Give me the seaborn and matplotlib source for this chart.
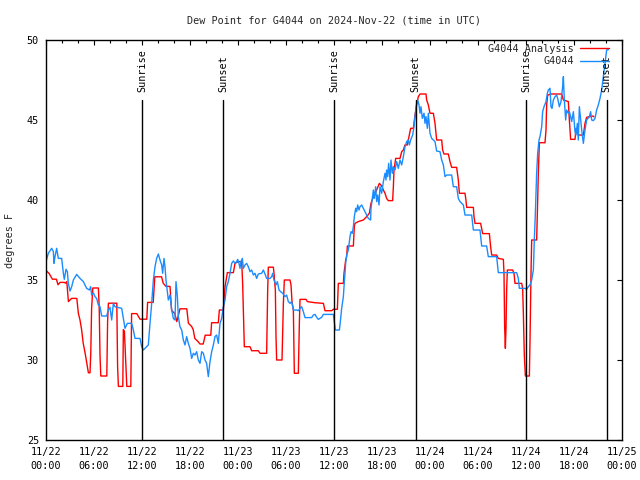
import pandas as pd
import matplotlib
matplotlib.use("Agg")
import matplotlib.pyplot as plt
import matplotlib.dates as mdates
import seaborn as sns

# Analysis series (hours after 2024-11-22 00:00 UTC, deg F)
red_hours = [0.0, 0.4, 0.8, 1.3, 1.5, 1.75, 2.3, 2.45, 2.6, 2.8, 3.2, 3.85, 4.05, 4.25, 4.45,
             4.65, 4.9, 5.1, 5.3, 5.5, 5.6, 5.7, 5.85, 6.55, 6.65, 6.75, 6.85, 7.6, 7.7, 7.8,
             8.85, 8.95, 9.05, 9.6, 9.67, 9.8, 10.0, 10.1, 10.6, 10.7, 11.35, 11.75, 12.6, 12.7,
             13.4, 13.6, 14.45, 14.65, 15.0, 15.5, 15.7, 16.1, 16.35, 16.75, 17.6, 17.8, 18.2,
             18.4, 18.6, 19.0, 19.25, 19.65, 19.9, 20.6, 20.7, 21.54, 21.67, 22.17, 22.375,
             22.67, 23.42, 23.625, 24.04, 24.46, 24.58, 24.79, 25.5, 25.71, 26.54, 26.75, 27.58,
             27.71, 27.79, 28.42, 28.5, 28.67, 28.75, 28.83, 29.5, 29.67, 29.79, 30.5, 30.625,
             30.75, 30.92, 31.04, 31.54, 31.67, 31.75, 32.5, 32.67, 33.625, 34.67, 34.875,
             35.71, 35.92, 36.42, 36.54, 37.17, 37.25, 37.46, 37.58, 37.67, 38.42, 38.54,
             38.625, 39.04, 39.67, 40.08, 40.42, 40.625, 40.92, 41.33, 41.67, 41.96, 42.17,
             42.375, 42.58, 42.79, 43.33, 43.42, 43.5, 43.71, 44.25, 44.46, 44.67, 44.875,
             45.17, 45.42, 45.58, 45.92, 46.125, 46.33, 46.54, 46.75, 47.5, 47.58, 47.79, 48.0,
             48.42, 48.625, 48.75, 48.83, 49.46, 49.58, 49.75, 50.29, 50.5, 50.71, 51.33,
             51.54, 51.67, 52.375, 52.5, 52.58, 53.42, 53.5, 53.625, 54.33, 54.58, 55.42,
             55.58, 55.71, 56.33, 56.54, 57.17, 57.25, 57.33, 57.42, 57.5, 57.58, 57.67, 58.33,
             58.5, 58.625, 59.46, 59.58, 59.67, 59.79, 59.92, 60.42, 60.5, 60.625, 60.71,
             61.33, 61.42, 61.54, 61.67, 62.375, 62.5, 62.58, 62.71, 63.2, 64.46, 64.67, 65.29,
             65.42, 65.58, 66.125, 66.25, 66.42, 66.54, 67.17, 67.375, 67.58, 68.33, 68.5]
red_vals = [35.6, 35.4, 35.05, 35.05, 34.7, 34.85, 34.85, 34.8, 34.9, 33.65, 33.85, 33.85, 32.9,
            32.5, 31.9, 31.05, 30.4, 29.8, 29.2, 29.2, 30.5, 33.2, 34.5, 34.5, 33.3, 30.3, 29.0,
            29.0, 32.4, 33.55, 33.55, 29.6, 28.35, 28.35, 31.9, 31.8, 29.6, 28.35, 28.35, 32.9,
            32.9, 32.55, 32.55, 33.6, 33.6, 35.2, 35.2, 34.8, 34.6, 34.6, 33.1, 32.9, 32.4,
            33.2, 33.2, 32.3, 32.1, 31.9, 31.35, 31.15, 31.0, 31.0, 31.55, 31.55, 32.33, 32.33,
            33.125, 33.125, 34.58, 35.46, 35.46, 36.04, 36.15, 36.15, 34.8, 30.83, 30.83, 30.58,
            30.58, 30.42, 30.42, 34.375, 35.8, 35.8, 35.42, 34.375, 31.46, 30.0, 30.0, 33.54,
            35.0, 35.0, 34.69, 33.65, 33.125, 29.17, 29.17, 32.29, 33.79, 33.79, 33.65, 33.58,
            33.54, 33.08, 33.08, 33.17, 33.17, 34.79, 34.79, 35.42, 36.25, 36.46, 37.125,
            37.125, 38.33, 38.54, 38.65, 38.75, 38.96, 39.17, 39.79, 40.2, 40.625, 41.04,
            40.875, 40.625, 40.42, 40.1, 39.96, 39.96, 40.83, 41.875, 42.6, 42.6, 43.02,
            43.125, 43.44, 43.44, 44.06, 44.48, 44.48, 45.3, 45.94, 46.46, 46.625, 46.625,
            46.25, 45.94, 45.42, 45.42, 44.79, 44.17, 43.75, 43.75, 43.125, 42.875, 42.875,
            42.4, 42.04, 42.04, 41.25, 40.42, 40.42, 39.96, 39.54, 39.54, 38.96, 38.54, 38.54,
            37.9, 37.9, 37.08, 36.56, 36.56, 36.35, 36.29, 35.42, 32.08, 30.73, 31.98, 34.375,
            35.625, 35.625, 35.42, 34.79, 34.79, 34.48, 32.92, 30.31, 29.0, 29.0, 31.15, 35.42,
            37.5, 37.5, 39.17, 41.67, 43.58, 43.58, 44.375, 45.94, 46.56, 46.625, 46.625, 46.25,
            46.15, 45.0, 43.79, 43.79, 44.48, 44.33, 44.06, 44.06, 44.79, 45.17, 45.25, 45.2]

# Station observations
obs_hours = [0.0, 0.29, 0.5, 0.71, 0.92, 1.0, 1.125, 1.33, 1.54, 1.96, 2.17, 2.29, 2.5, 2.67,
             2.79, 3.0, 3.21, 3.42, 3.83, 4.25, 4.67, 5.08, 5.42, 5.58, 5.71, 5.92, 6.125, 6.33,
             6.54, 6.75, 6.96, 7.58, 7.79, 8.0, 8.21, 8.42, 8.625, 9.46, 9.67, 9.875, 10.17,
             10.71, 10.92, 11.125, 11.75, 11.96, 12.17, 12.58, 12.79, 13.0, 13.21, 13.42,
             13.625, 13.83, 14.04, 14.25, 14.46, 14.58, 14.75, 14.875, 15.0, 15.17, 15.29,
             15.5, 15.71, 15.92, 16.125, 16.25, 16.42, 16.54, 16.75, 16.96, 17.17, 17.375,
             17.58, 17.79, 18.0, 18.21, 18.42, 18.625, 18.83, 19.04, 19.25, 19.46, 19.67,
             19.875, 20.08, 20.29, 20.5, 20.71, 20.92, 21.125, 21.33, 21.54, 21.75, 21.96,
             22.17, 22.375, 22.58, 22.79, 23.0, 23.21, 23.42, 23.625, 23.83, 23.96, 24.125,
             24.25, 24.375, 24.54, 24.67, 24.875, 25.08, 25.29, 25.5, 25.71, 25.92, 26.125,
             26.33, 26.54, 26.96, 27.17, 27.375, 27.58, 28.0, 28.21, 28.33, 28.5, 28.75,
             28.92, 29.125, 29.33, 29.58, 29.875, 30.08, 30.29, 30.5, 30.71, 30.92, 31.33,
             31.54, 31.75, 31.96, 32.17, 32.375, 33.21, 33.42, 33.625, 33.83, 34.04, 34.46,
             34.67, 35.92, 36.04, 36.17, 36.67, 36.75, 36.96, 37.17, 37.25, 37.46, 37.58,
             37.79, 38.0, 38.125, 38.29, 38.42, 38.54, 38.71, 38.83, 38.96, 39.125, 39.25,
             39.46, 39.67, 39.875, 40.08, 40.29, 40.58, 40.625, 40.71, 40.92, 41.04, 41.21,
             41.33, 41.46, 41.625, 41.75, 41.96, 42.17, 42.375, 42.5, 42.58, 42.71, 42.83,
             43.0, 43.125, 43.29, 43.42, 43.625, 43.83, 44.04, 44.25, 44.46, 44.67, 44.875,
             45.08, 45.29, 45.42, 45.58, 45.83, 46.0, 46.125, 46.33, 46.46, 46.625, 46.75,
             46.875, 47.04, 47.25, 47.375, 47.5, 47.67, 47.79, 48.0, 48.21, 48.42, 48.625,
             48.83, 49.25, 49.46, 49.67, 49.875, 50.08, 50.71, 50.92, 51.33, 51.54, 51.75,
             52.17, 52.375, 53.21, 53.42, 54.25, 54.46, 55.08, 55.29, 56.33, 56.42, 56.54,
             58.83, 59.04, 59.17, 59.875, 60.08, 60.29, 60.5, 60.71, 60.92, 61.04, 61.17,
             61.33, 61.46, 61.625, 61.75, 61.96, 62.08, 62.25, 62.5, 62.67, 62.79, 63.0,
             63.125, 63.25, 63.42, 63.625, 63.83, 63.96, 64.17, 64.375, 64.58, 64.67, 64.79,
             64.96, 65.08, 65.29, 65.42, 65.58, 65.71, 65.92, 66.125, 66.25, 66.42, 66.54,
             66.67, 66.83, 66.96, 67.17, 67.375, 67.58, 67.92, 68.08, 68.21, 68.42, 68.625,
             68.83, 69.04, 69.25, 69.46, 69.67, 69.875, 70.08, 70.3]
obs_vals = [36.15, 36.67, 36.83, 36.98, 36.77, 36.04, 36.46, 36.98, 36.35, 36.35, 35.42, 35.04,
            35.67, 35.52, 34.79, 34.31, 34.58, 35.0, 35.35, 35.1, 34.9, 34.48, 34.375, 34.58,
            34.06, 34.2, 33.96, 33.85, 33.44, 33.33, 32.75, 32.75, 33.125, 33.29, 32.5, 33.54,
            33.33, 33.23, 32.6, 31.98, 32.29, 32.29, 31.875, 31.35, 31.35, 30.83, 30.625,
            30.83, 30.94, 32.29, 33.54, 35.0, 35.83, 36.35, 36.625, 36.25, 35.94, 35.42,
            36.35, 35.83, 35.0, 34.27, 33.75, 34.06, 33.125, 32.6, 32.5, 34.9, 33.96, 32.71,
            32.08, 31.875, 31.25, 30.94, 31.46, 31.04, 30.73, 30.1, 30.42, 30.31, 30.52, 30.0,
            29.79, 30.52, 30.42, 30.0, 29.79, 28.96, 29.9, 30.52, 30.94, 31.46, 31.56, 31.04,
            32.29, 32.6, 33.33, 33.75, 34.58, 34.9, 35.42, 36.04, 36.19, 36.04, 36.15, 36.29,
            36.04, 35.73, 36.15, 36.35, 35.73, 35.94, 36.04, 35.83, 35.52, 35.625, 35.31,
            35.42, 35.1, 35.375, 35.42, 35.625, 35.375, 35.1, 35.1, 35.21, 35.42, 35.0, 34.69,
            34.9, 34.375, 34.27, 34.17, 33.96, 34.06, 33.65, 33.54, 33.65, 33.125, 33.125,
            33.08, 33.23, 33.33, 33.02, 32.65, 32.65, 32.81, 32.85, 32.67, 32.54, 32.67,
            32.85, 32.85, 32.4, 31.875, 31.875, 32.19, 33.23, 33.96, 34.58, 36.04, 36.56,
            36.875, 37.71, 38.02, 37.92, 38.33, 38.96, 39.48, 39.27, 39.69, 39.375, 39.58,
            39.69, 39.48, 39.27, 39.06, 38.85, 38.75, 39.48, 39.79, 40.625, 40.1, 40.83, 39.9,
            40.31, 39.69, 40.83, 40.42, 41.15, 41.67, 41.25, 41.875, 41.46, 42.29, 41.25,
            42.5, 41.67, 42.08, 41.875, 42.4, 41.98, 42.5, 42.19, 42.71, 43.33, 43.65, 43.75,
            43.44, 43.75, 44.06, 44.58, 45.21, 46.04, 46.25, 45.94, 45.42, 45.83, 45.1, 45.42,
            44.79, 45.21, 44.48, 45.42, 44.17, 43.85, 43.75, 43.65, 43.06, 43.02, 42.5, 42.19,
            41.46, 41.56, 41.56, 40.83, 40.83, 40.1, 39.9, 39.69, 39.06, 39.06, 38.125,
            38.125, 37.125, 37.125, 36.46, 36.46, 36.04, 35.46, 35.46, 35.1, 34.48, 34.48,
            34.42, 34.58, 34.69, 35.0, 35.625, 37.5, 39.17, 41.67, 42.92, 43.75, 43.96, 44.58,
            45.52, 45.83, 46.15, 46.67, 46.875, 46.98, 45.83, 45.73, 46.25, 46.46, 46.56,
            46.35, 45.83, 46.15, 47.08, 47.71, 46.25, 45.0, 45.625, 45.42, 45.52, 45.2, 44.9,
            45.52, 44.27, 44.06, 44.79, 43.75, 45.83, 45.0, 44.375, 43.54, 44.375, 45.0,
            45.21, 45.52, 45.0, 44.96, 45.1, 45.625, 45.94, 46.35, 46.875, 47.71, 48.54,
            49.375, 49.4]

# Sunrise / sunset markers
event_hours = [12.05, 22.17, 36.04, 46.2, 60.0, 70.1]
event_labels = ['Sunrise', 'Sunset', 'Sunrise', 'Sunset', 'Sunrise', 'Sunset']

start = pd.Timestamp('2024-11-22 00:00')
df_red = pd.DataFrame({'time': start + pd.to_timedelta(red_hours, unit='h'), 'dewpt': red_vals})
df_obs = pd.DataFrame({'time': start + pd.to_timedelta(obs_hours, unit='h'), 'dewpt': obs_vals})

sns.set_theme(style='white')
plt.rcParams['font.family'] = ['DejaVu Sans Mono']
plt.rcParams['font.size'] = 7.3

fig = plt.figure(figsize=(6.4, 4.8), dpi=100)
ax = fig.add_axes([46 / 640, 40 / 480, 576 / 640, 400 / 480])

sns.lineplot(data=df_red, x='time', y='dewpt', ax=ax, color='#ff0000', linewidth=1.0,
             estimator=None, sort=False, label='G4044 Analysis')
sns.lineplot(data=df_obs, x='time', y='dewpt', ax=ax, color='#1a8cff', linewidth=1.0,
             estimator=None, sort=False, label='G4044')

for h, lab in zip(event_hours, event_labels):
    t = start + pd.Timedelta(hours=h)
    ax.plot([t, t], [25, 46.25], color='black', linewidth=1.0)
    ax.text(t, 46.75, lab, rotation=90, ha='center', va='bottom', color='black')

ax.set_xlim(start, start + pd.Timedelta(hours=72))
ax.set_ylim(25, 50)
ax.set_yticks([25, 30, 35, 40, 45, 50])
ax.xaxis.set_major_locator(mdates.HourLocator(byhour=[0, 6, 12, 18]))
ax.xaxis.set_minor_locator(mdates.HourLocator(byhour=range(0, 24, 2)))
ax.xaxis.set_major_formatter(mdates.DateFormatter('%m/%d\n%H:%M'))
ax.yaxis.set_minor_locator(matplotlib.ticker.MultipleLocator(1))
ax.yaxis.set_minor_formatter(matplotlib.ticker.NullFormatter())

ax.tick_params(which='both', direction='in', top=True, right=True, colors='black', labelsize=7.3)
ax.tick_params(which='major', length=3.5, width=0.8, pad=5)
ax.tick_params(which='minor', length=1.8, width=0.8)
ax.tick_params(axis='y', which='minor', length=0)
for s in ax.spines.values():
    s.set_color('black')
    s.set_linewidth(1.0)
plt.setp(ax.get_xticklabels(), linespacing=1.45)

ax.set_title('Dew Point for G4044 on 2024-Nov-22 (time in UTC)', fontsize=7.3, pad=12)
ax.set_xlabel('')
ax.set_ylabel('degrees F', fontsize=7.3)
ax.yaxis.set_label_coords(-0.053, 0.5)

ax.legend(loc='upper right', bbox_to_anchor=(0.99, 1.008), frameon=False, markerfirst=False,
          fontsize=7.3, handlelength=2.9, handletextpad=0.6, labelspacing=0.25,
          borderaxespad=0.3)

fig.savefig('out.png', dpi=100)
